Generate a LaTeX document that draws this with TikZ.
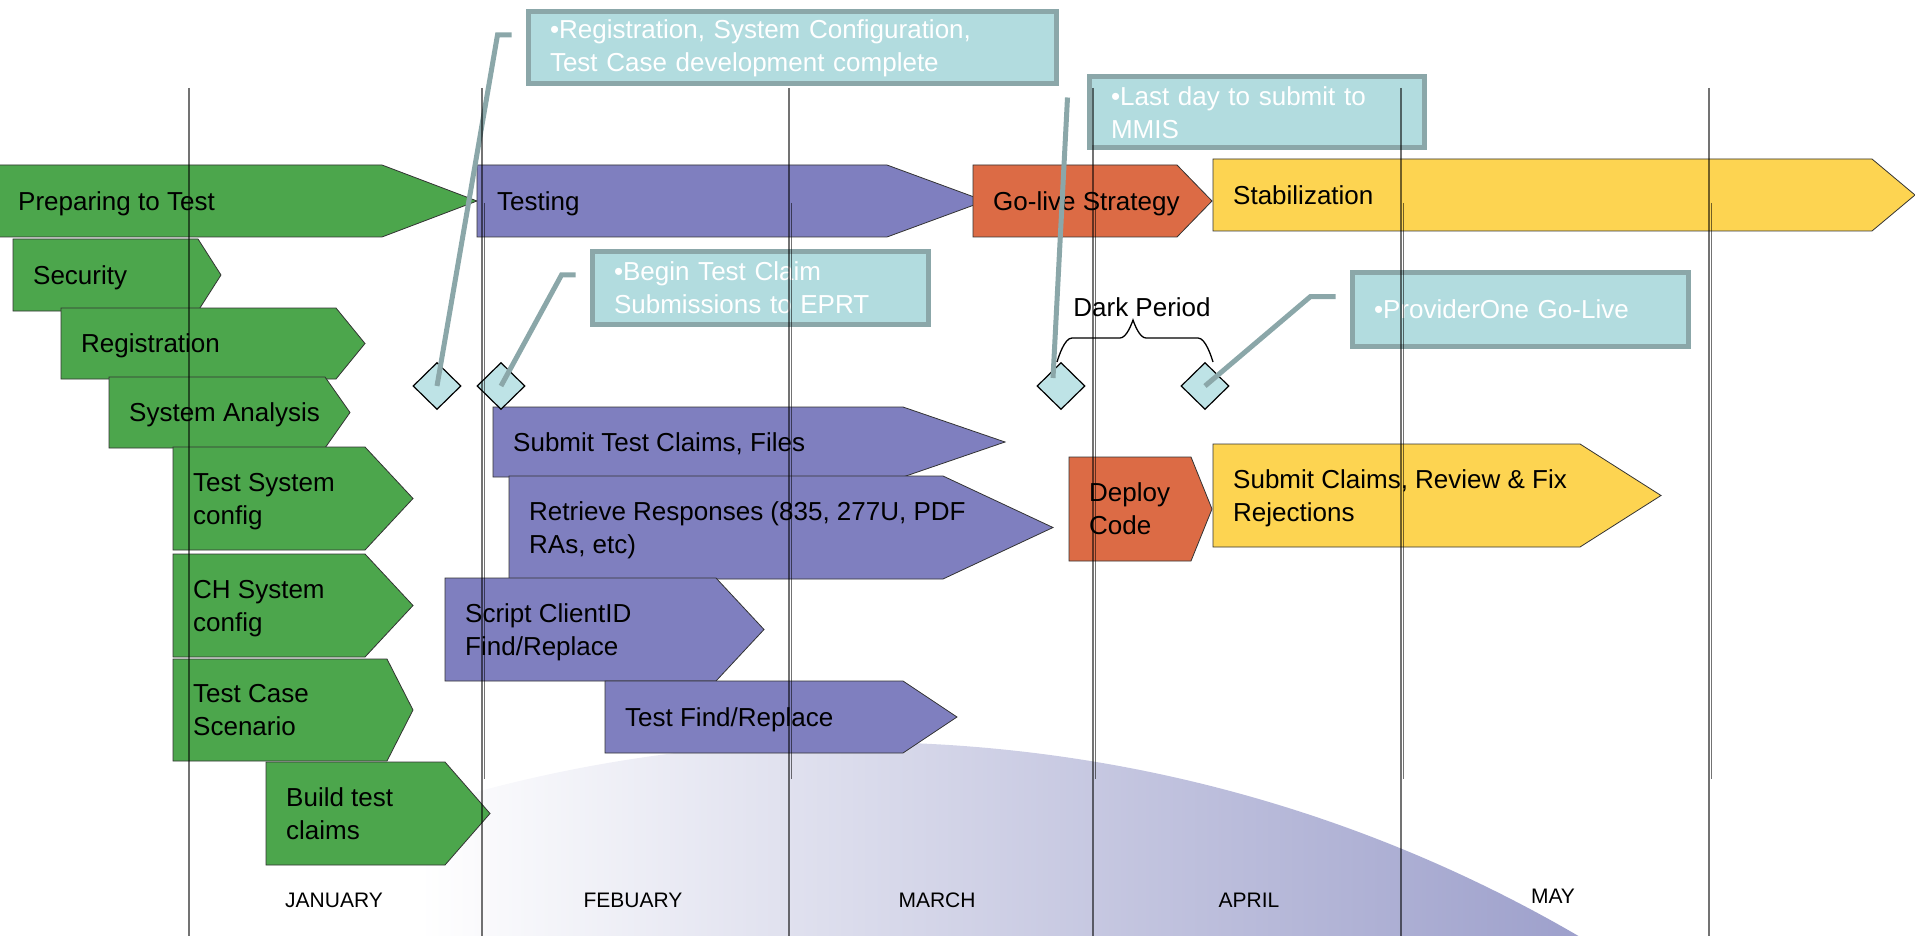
\documentclass[tikz,border=0pt]{standalone}
\usepackage{fontspec}
\setmainfont{Liberation Sans}
\usepackage{tikz}
\usetikzlibrary{shapes.geometric}
\definecolor{prepgreen}{HTML}{4CA64C}
\definecolor{testpurple}{HTML}{7F7FBF}
\definecolor{liveorange}{HTML}{DC6B45}
\definecolor{stabyellow}{HTML}{FDD451}
\definecolor{calloutfill}{HTML}{B2DCDF}
\definecolor{calloutline}{HTML}{8BA7A9}
\definecolor{milestonefill}{HTML}{BEE3E6}
\definecolor{swoosh}{HTML}{9396C6}

\begin{document}
\begin{tikzpicture}[x=1pt,y=-1pt,
    bar/.style={draw=black!80,line width=0.8pt},
    bartext/.style={anchor=west,inner xsep=20pt,inner ysep=0pt,align=left,
      text depth=0pt,font=\fontsize{26}{33}\selectfont},
    callout/.style={draw=calloutline,line width=5pt,fill=calloutfill,text=white,
      anchor=north west,align=left,inner xsep=22pt,inner ysep=4pt,
      font=\fontsize{26}{33}\selectfont},
    milestone/.style={draw,shape=diamond,fill=milestonefill,minimum width=48pt,
      minimum height=47pt,inner sep=0pt,line width=1.2pt},
    leader/.style={draw=calloutline,line width=5pt},
    gridline/.style={draw=black,opacity=0.55,line width=2pt},
    month/.style={font=\fontsize{21}{24}\selectfont}]
        \useasboundingbox (0,0) rectangle (1915,936);

        % background swoosh
        \begin{scope}
          \clip (855,2092) ellipse [x radius=1400, y radius=1350];
          \shade[left color=white,right color=swoosh] (420,700) rectangle (1700,936);
        \end{scope}

        % phase bars
        \foreach \nm/\barcol/\xa/\ya/\xb/\xc/\yb/\txt in {
          prep/prepgreen/-2/165/382/477/237/{Preparing to Test},
          testing/testpurple/477/165/887/985/237/{Testing},
          golive/liveorange/973/165/1177/1212/237/{Go-live Strategy},
          stab/stabyellow/1213/159/1872/1915/231/{Stabilization},
          security/prepgreen/13/239/198/221/311/{Security},
          reg/prepgreen/61/308/336/365/379/{Registration},
          analysis/prepgreen/109/377/325/350/448/{System Analysis},
          testsys/prepgreen/173/447/365/413/550/{Test System\\config},
          chsys/prepgreen/173/554/365/413/657/{CH System\\config},
          testcase/prepgreen/173/659/387/413/761/{Test Case\\Scenario},
          build/prepgreen/266/762/445/490/865/{Build test\\claims},
          submit/testpurple/493/407/903/1005/477/{Submit Test Claims, Files},
          retrieve/testpurple/509/476/943/1053/579/{Retrieve Responses (835, 277U, PDF\\RAs, etc)},
          script/testpurple/445/578/716/764/681/{Script ClientID\\Find/Replace},
          testfind/testpurple/605/681/903/957/753/{Test Find/Replace},
          deploy/liveorange/1069/457/1191/1212/561/{Deploy\\Code},
          fix/stabyellow/1213/444/1580/1661/547/{Submit Claims, Review \& Fix\\Rejections}}
        {
          \draw[bar,fill=\barcol] (\xa,\ya) -- (\xb,\ya) -- (\xc,{(\ya+\yb)/2})
            -- (\xb,\yb) -- (\xa,\yb) -- cycle;
          \node[bartext] (\nm) at (\xa,{(\ya+\yb)/2}) {\txt};
        }

        % callouts
        \node[callout,text width=484pt,minimum height=72pt] (c1) at (525.5,9.5)
          {\textbullet Registration, System Configuration,\\Test Case development complete};
        \node[callout,text width=292pt,minimum height=72pt] (c2) at (589.5,249.5)
          {\textbullet Begin Test Claim\\Submissions to EPRT};
        \node[callout,text width=291pt,minimum height=71pt] (c3) at (1086.5,74.5)
          {\textbullet Last day to submit to\\MMIS};
        \node[callout,text width=292pt,minimum height=73pt] (c4) at (1349.5,270.5)
          {\textbullet ProviderOne Go-Live};

        % milestones
        \path
        (437,386) node[milestone] (d1) {}
        (501,386) node[milestone] (d2) {}
        (1061,386) node[milestone] (d3) {}
        (1205,386) node[milestone] (d4) {}
        ;

        \coordinate (k1) at ([xshift=-14pt,yshift=13pt]c1.west);
        \coordinate (k2) at ([xshift=-14pt,yshift=13pt]c2.west);
        \coordinate (k3) at ([xshift=-19pt,yshift=15pt]c3.west);
        \coordinate (k4) at ([xshift=-14pt,yshift=13pt]c4.west);
        \draw[leader] (k1) -- ++(-14,0) -- (d1.center);
        \draw[leader] (k2) -- ++(-14,0) -- (d2.center);
        \draw[leader] (k3) -- ([shift={(-8,-8)}]d3.center);
        \draw[leader] (k4) -- ++(-25,0) -- (d4.center);

        % dark period
        \draw[line width=1.3pt] (1057,362) parabola[bend at end] (1072,338) -- (1120,338)
          parabola[bend at start] (1133,320) parabola[bend at end] (1146,338)
          -- (1198,338) parabola[bend at start] (1213,362);
        \node[font=\fontsize{26}{33}\selectfont] (dark) at (1142,307) {Dark Period};

        % month grid
        \foreach \gx in {189,482,789,1093,1401,1709}
          \draw[gridline] (\gx,88) -- (\gx,936);
        \foreach \gx in {484.5,791.5,1095.5,1403.5,1711.5}
          \draw[gridline,line width=1.5pt] (\gx,203) -- (\gx,779);
        \foreach \mx/\mname in {334/JANUARY,633/FEBUARY,937/MARCH,1249/APRIL}
          \node[month] (\mname) at (\mx,900) {\mname};
        \node[month] (MAY) at (1553,896) {MAY};
      \end{tikzpicture}
\end{document}
